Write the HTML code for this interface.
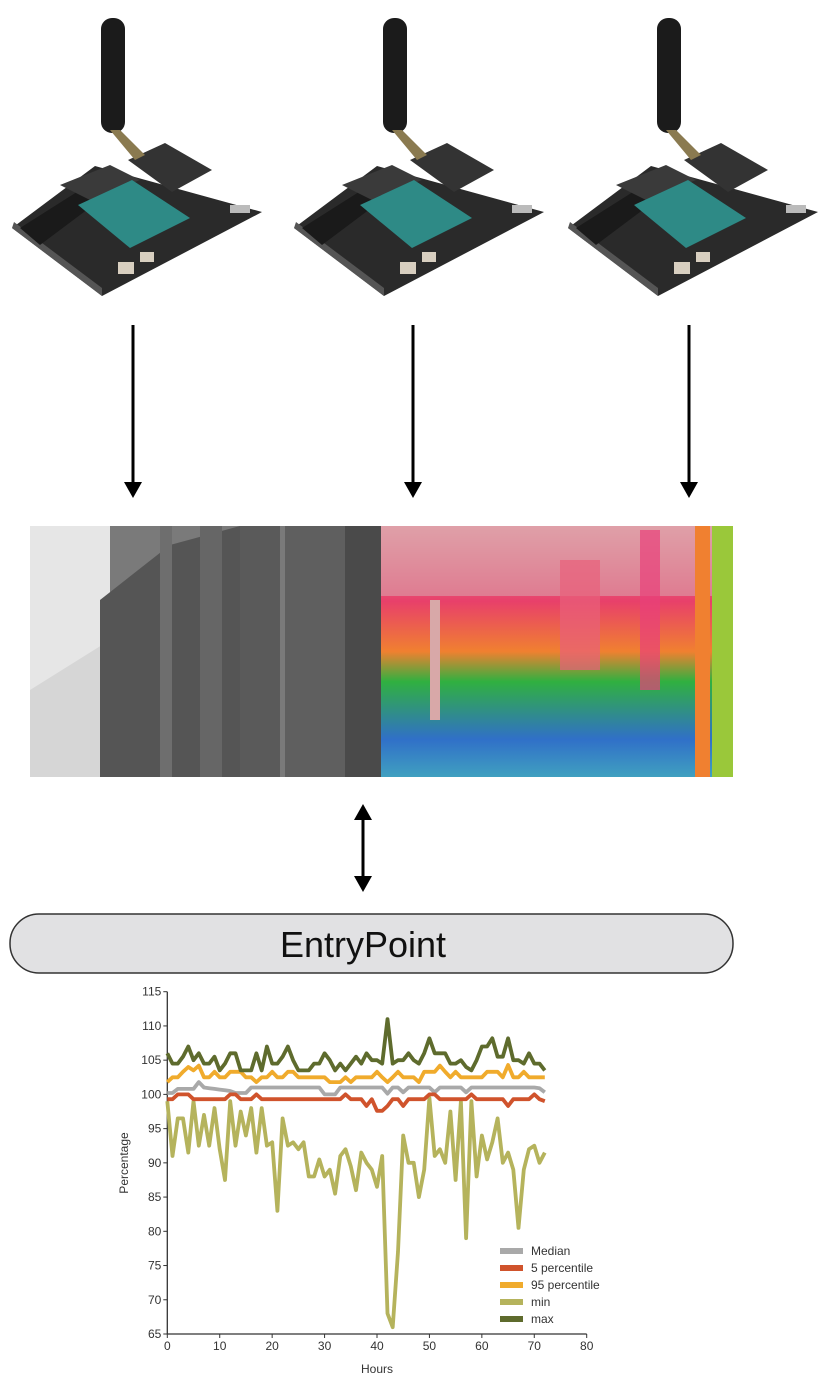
<!DOCTYPE html>
<html><head><meta charset="utf-8"><style>
body{margin:0;background:#fff;width:834px;height:1374px;overflow:hidden;font-family:"Liberation Sans",sans-serif}
svg{position:absolute;left:0;top:0}
</style></head><body>
<svg width="834" height="1374" viewBox="0 0 834 1374">
<defs>
<g id="dev">
  <polygon points="12,228 95,166 262,212 102,296" fill="#2a2a2a"/>
  <polygon points="12,228 102,296 102,288 14,222" fill="#555"/>
  <polygon points="20,228 80,190 100,200 40,245" fill="#1a1a1a"/>
  <polygon points="60,185 110,165 140,180 90,200" fill="#3a3a3a"/>
  <polygon points="78,205 132,180 190,218 130,248" fill="#2e8a86"/>
  <polygon points="128,160 165,143 212,170 172,192" fill="#333"/>
  <rect x="230" y="205" width="20" height="8" fill="#bbb"/>
  <rect x="118" y="262" width="16" height="12" fill="#d8cfc0"/>
  <rect x="140" y="252" width="14" height="10" fill="#d8cfc0"/>
  <rect x="101" y="18" width="24" height="115" rx="11" fill="#1b1b1b"/>
  <polygon points="110,130 120,130 145,155 135,160" fill="#8a7a50"/>
</g>
</defs>
<use href="#dev"/>
<use href="#dev" x="282"/>
<use href="#dev" x="556"/>

<g><line x1="133" y1="325" x2="133" y2="485" stroke="#000" stroke-width="3"/><polygon points="124,482 142,482 133,498" fill="#000"/></g>
<g><line x1="413" y1="325" x2="413" y2="485" stroke="#000" stroke-width="3"/><polygon points="404,482 422,482 413,498" fill="#000"/></g>
<g><line x1="689" y1="325" x2="689" y2="485" stroke="#000" stroke-width="3"/><polygon points="680,482 698,482 689,498" fill="#000"/></g>

<g>
  <rect x="30" y="526" width="351" height="251" fill="#7a7a7a"/>
  <rect x="30" y="526" width="80" height="251" fill="#e6e6e6"/>
  <polygon points="30,690 110,640 110,777 30,777" fill="#d6d6d6"/>
  <polygon points="100,600 170,545 240,526 240,777 100,777" fill="#555"/>
  <rect x="160" y="526" width="12" height="251" fill="#6e6e6e"/>
  <rect x="200" y="526" width="22" height="251" fill="#666"/>
  <rect x="240" y="526" width="40" height="251" fill="#5a5a5a"/>
  <rect x="285" y="526" width="60" height="251" fill="#5f5f5f"/>
  <rect x="345" y="526" width="36" height="251" fill="#4a4a4a"/>
</g>
<defs>
<linearGradient id="th" x1="0" y1="0" x2="0" y2="1">
<stop offset="0" stop-color="#e8a0a8"/><stop offset="0.3" stop-color="#e8406a"/><stop offset="0.5" stop-color="#f08030"/><stop offset="0.62" stop-color="#30b040"/><stop offset="0.85" stop-color="#3070c8"/><stop offset="1" stop-color="#40a0c0"/></linearGradient>
</defs>
<g>
  <rect x="381" y="526" width="352" height="251" fill="url(#th)"/>
  <rect x="381" y="526" width="352" height="70" fill="#d8a0a8" opacity="0.6"/>
  <rect x="430" y="600" width="10" height="120" fill="#d8a8a8"/>
  <rect x="560" y="560" width="40" height="110" fill="#e8607a" opacity="0.7"/>
  <rect x="640" y="530" width="20" height="160" fill="#e8407a" opacity="0.7"/>
  <rect x="695" y="526" width="15" height="251" fill="#f08030"/>
  <rect x="712" y="526" width="21" height="251" fill="#9ac83a"/>
</g>

<g><line x1="363" y1="815" x2="363" y2="880" stroke="#000" stroke-width="3"/><polygon points="354,820 372,820 363,804" fill="#000"/><polygon points="354,876 372,876 363,892" fill="#000"/></g>

<g>
  <rect x="10" y="914" width="723" height="59" rx="29" fill="#e1e1e3" stroke="#333" stroke-width="1.5"/>
  <text x="363" y="957" text-anchor="middle" font-size="36" fill="#111" font-family="Liberation Sans,sans-serif">EntryPoint</text>
</g>
<g id="chart"></g>
</svg>
<script>
const hours = Array.from({length:73},(_, i)=>i);
const maxVals=[106,104.5,104.5,105.5,107,105,106,104.5,104.5,105.5,103.5,104.5,106,106,103.5,103.5,103.5,106,103.5,107,104.5,104.5,105.5,107,105,103.5,103.5,103.5,104.5,104.5,106,105,103.5,104.5,103.5,104.5,105.5,104.5,106,105,105,104.5,111,104.5,105,105,106,105,104.5,106,108.2,106,106,106,104.5,104.5,105,104,103.5,105,107,107,108.2,105.5,105.5,108.2,105,105,104.5,106,104.5,104.5,103.5];
const p95Vals=[101.8,102.5,102.5,103.3,104,103.5,104.2,102.5,102.5,103.3,102.5,102.5,103.3,103.3,103.3,102.5,102.5,101.8,102.5,102.5,103.3,102.5,102.5,103.3,103.3,102.5,102.5,102.5,102.5,102.5,102.5,101.8,101.8,101.8,102.5,101.8,102.5,102.5,102.5,102.5,103.3,102.5,101.8,102.5,103.3,102.5,102.5,102.5,101.8,103.3,103.3,103.3,104.2,103.3,102.5,103.3,102.5,102.5,102.5,102.5,102.5,103.3,103.3,103.3,102.5,104.3,102.5,102.5,103.3,102.5,102.5,102.5,102.5];
const medianVals=[100.2,100.2,100.8,100.8,100.8,100.8,101.8,101,100.9,100.8,100.7,100.6,100.5,100.2,100.2,100.2,101,101,101,101,101,101,101,101,101,101,101,101,101,101,100,100,100,101,101,101,101,101,101,101,101,101,100.1,101,101,100.3,101,101,101,101,101,100.3,101,101,101,101,101,100.3,101,101,101,101,101,101,101,101,101,101,101,101,101,100.9,100.3];
const p5Vals=[99.3,99.3,100,100,100,99.3,99.3,99.3,99.3,99.3,99.3,99.3,100,100,99.3,99.3,99.3,100,99.3,99.3,99.3,99.3,99.3,99.3,99.3,99.3,99.3,99.3,99.3,99.3,99.3,99.3,99.3,99.3,100,99.3,99.3,99.3,98.3,99.3,97.6,97.6,98.3,99.3,99.3,98.3,99.3,99.3,99.3,99.3,100,100,99.3,99.3,99.3,99.3,99.3,99.3,100,99.3,99.3,99.3,99.3,99.3,99.3,98.3,99.3,99.3,99.3,99.3,100,99.3,99];
const minVals=[99,91,96.5,96.5,91.5,99,92.5,97,92.5,98,92,87.5,99,92.5,97.5,94,98,91.5,98,92.5,93,83,96.5,92.5,93,92,93,88,88,90.5,88,89,85.5,91,92,89.5,86,91.5,90,89,86.5,91,68,66,77,94,90,90,85,89,99.5,91,92,90,97.5,87.5,99,79,99,88,94,90.5,93,96.5,90,91.5,89,80.5,89,92,92.5,90,91.5];
const yTicks=[65,70,75,80,85,90,95,100,105,110,115];
const xTicks=[0,10,20,30,40,50,60,70,80];
const seriesNames=["Median","5 percentile","95 percentile","min","max"];
const seriesColors=["#a9a9a9","#d0532c","#f0ab2c","#b5b35c","#5e6b2d"];
const NS="http://www.w3.org/2000/svg";
const g=document.getElementById('chart');
const X0=167.3,X1=586.7,Y0=1334,Y1=991.7;
function xs(v){return X0+(v-0)/(80-0)*(X1-X0);}
function ys(v){return Y0-(v-65)/(115-65)*(Y0-Y1);}
function mk(t,a,txt){const e=document.createElementNS(NS,t);for(const k in a)e.setAttribute(k,a[k]);if(txt!==undefined)e.textContent=txt;g.appendChild(e);return e;}
let ax=mk('path',{d:`M${X0},${Y1} V${Y0} H${X1}`,stroke:'#333',fill:'none','stroke-width':1.3});


yTicks.forEach(t=>{const y=ys(t);
 let l=mk('line',{x1:X0-4,x2:X0,y1:y,y2:y,stroke:'#333'});
 
 
 let tx=mk('text',{x:X0-6,y:y+4,'text-anchor':'end','font-size':12,fill:'#333'},String(t));
 
 });
xTicks.forEach(t=>{const x=xs(t);
 let l=mk('line',{x1:x,x2:x,y1:Y0,y2:Y0+4,stroke:'#333'});
 
 
 let tx=mk('text',{x:x,y:Y0+16,'text-anchor':'middle','font-size':12,fill:'#333'},String(t));
 
 });
let yt=mk('text',{x:0,y:0,transform:`translate(128,1163) rotate(-90)`,'text-anchor':'middle','font-size':12,fill:'#333'},'Percentage');


let xt=mk('text',{x:377,y:1373,'text-anchor':'middle','font-size':12,fill:'#333'},'Hours');


const allSeries=[medianVals,p5Vals,p95Vals,minVals,maxVals];
const order=[3,0,1,2,4];
order.forEach(i=>{const vals=allSeries[i];
 const d=vals.map((v,j)=>(j?'L':'M')+xs(hours[j]).toFixed(1)+','+ys(v).toFixed(1)).join(' ');
 let p=mk('path',{d:d,stroke:seriesColors[i],'stroke-width':3.8,fill:'none','stroke-linejoin':'round'});
 
 });
seriesNames.forEach((n,i)=>{const y=1251+i*17;
 let s=mk('rect',{x:500,y:y-3,width:23,height:6,fill:seriesColors[i]});
 
 
 let t=mk('text',{x:531,y:y+4,'font-size':12,fill:'#333'},n);
 
 });
</script>
</body></html>
